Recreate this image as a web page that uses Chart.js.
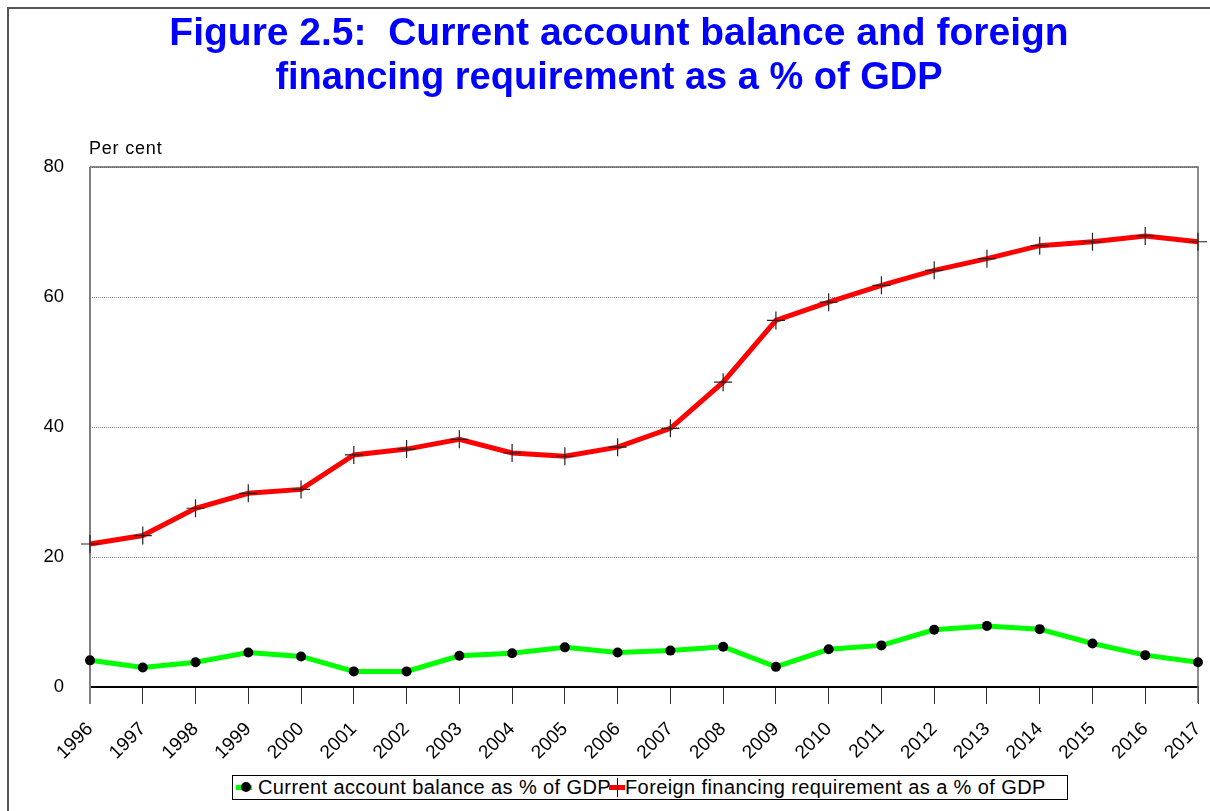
<!DOCTYPE html>
<html>
<head>
<meta charset="utf-8">
<script src="https://cdn.jsdelivr.net/npm/chart.js@4/dist/chart.umd.min.js"></script>
<style>
  html, body { margin:0; padding:0; background:#fff; overflow:hidden; }
  #wrap { position:relative; width:1210px; height:811px; overflow:hidden; font-family:"Liberation Sans", Arial, sans-serif; }
  #frame { position:absolute; left:7px; top:7px; width:1400px; height:1000px; border:2px solid #555; box-sizing:border-box; }
  #chart { position:absolute; left:0; top:0; }
  .title { position:absolute; left:0; width:1238px; text-align:center; color:#0000FF; font-weight:bold; font-size:38px; line-height:45px; white-space:pre; }
  #unit { position:absolute; left:89px; top:139px; font-size:18px; line-height:18px; letter-spacing:0.8px; color:#000; }
  #legend { position:absolute; left:232px; top:775px; width:836px; height:25px; border:1px solid #000; box-sizing:border-box; background:#fff; }
  .lt { position:absolute; top:0; font-size:20px; line-height:23px; letter-spacing:0.4px; color:#000; white-space:pre; }
  .bar { position:absolute; height:5px; }
  .dot { position:absolute; width:10px; height:10px; border-radius:50%; background:#000; }
  .vl { position:absolute; width:1px; background:#000; }
</style>
</head>
<body>
<div id="wrap">
  <div id="frame"></div>
  <canvas id="chart" width="1210" height="811"></canvas>
  <div class="title" style="top:9px;font-size:39px;">Figure 2.5:  Current account balance and foreign</div>
  <div class="title" style="top:54px;left:-10px;">financing requirement as a % of GDP</div>
  <div id="unit">Per cent</div>
  <div id="legend">
    <div class="bar" style="left:3px;top:9px;width:16px;background:#00FF00;"></div>
    <div class="dot" style="left:8px;top:6px;"></div>
    <div class="lt" id="lt1" style="left:25px;"></div>
    <div class="bar" style="left:376px;top:9px;width:16px;background:#FF0000;"></div>
    <div class="vl" style="left:384px;top:2px;height:19px;"></div>
    <div class="lt" id="lt2" style="left:392px;"></div>
  </div>
</div>
<script>
const years = ["1996","1997","1998","1999","2000","2001","2002","2003","2004","2005","2006","2007","2008","2009","2010","2011","2012","2013","2014","2015","2016","2017"];
const currentAccount = [4.1, 3.0, 3.8, 5.3, 4.7, 2.4, 2.4, 4.8, 5.2, 6.1, 5.3, 5.6, 6.2, 3.1, 5.8, 6.4, 8.8, 9.4, 8.9, 6.7, 4.9, 3.8];
const foreignFinancing = [22.0, 23.3, 27.5, 29.8, 30.4, 35.7, 36.6, 38.1, 36.0, 35.5, 36.9, 39.8, 46.9, 56.4, 59.2, 61.8, 64.1, 65.9, 67.9, 68.5, 69.4, 68.5];
const yTicks = [0, 20, 40, 60, 80];
const seriesNames = ["Current account balance as % of GDP", "Foreign financing requirement as a % of GDP"];

document.getElementById('lt1').textContent = seriesNames[0];
document.getElementById('lt2').textContent = seriesNames[1];

const framePlugin = {
  id: 'framePlugin',
  beforeDatasetsDraw(chart) {
    const {ctx, chartArea: a} = chart;
    ctx.save();
    ctx.strokeStyle = '#666';
    ctx.lineWidth = 1.5;
    ctx.beginPath();
    ctx.moveTo(a.left, a.top);
    ctx.lineTo(a.right, a.top);
    ctx.lineTo(a.right, a.bottom + 16);
    ctx.stroke();
    ctx.strokeStyle = '#808080';
    ctx.lineWidth = 2;
    ctx.beginPath();
    ctx.moveTo(a.left, a.top);
    ctx.lineTo(a.left, a.bottom + 17);
    ctx.stroke();
    ctx.restore();
  }
};

new Chart(document.getElementById('chart'), {
  type: 'line',
  data: {
    labels: years,
    datasets: [
      {
        label: seriesNames[0],
        data: currentAccount,
        borderColor: '#00FF00',
        backgroundColor: '#000',
        borderWidth: 5,
        pointStyle: 'circle',
        pointRadius: 5,
        pointBackgroundColor: '#000',
        pointBorderColor: '#000',
        pointBorderWidth: 0,
        tension: 0,
        clip: false
      },
      {
        label: seriesNames[1],
        data: foreignFinancing,
        borderColor: '#FF0000',
        backgroundColor: '#000',
        borderWidth: 5,
        pointStyle: 'cross',
        pointRadius: 9,
        pointBorderColor: '#222',
        pointBorderWidth: 1.2,
        tension: 0,
        clip: false
      }
    ]
  },
  options: {
    responsive: false,
    animation: false,
    events: [],
    layout: { padding: { top: 167, right: 12, left: 0, bottom: 0 } },
    plugins: { legend: { display: false }, title: { display: false }, tooltip: { enabled: false } },
    scales: {
      x: {
        offset: false,
        grid: { display: true, drawOnChartArea: false, drawTicks: true, tickLength: 17, color: '#333', lineWidth: 1 },
        border: { display: true, color: '#000', width: 2 },
        ticks: { color: '#000', font: { family: '"Liberation Sans", Arial, sans-serif', size: 19 }, maxRotation: 45, minRotation: 45, autoSkip: false, padding: 14 },
        afterFit(scale) { scale.height = 811 - 687; scale.paddingLeft = 0; scale.paddingRight = 0; }
      },
      y: {
        min: 0, max: 80,
        afterBuildTicks(scale) { scale.ticks = yTicks.map(v => ({ value: v })); },
        grid: { color: '#8a8a8a', lineWidth: 1, drawTicks: false },
        border: { display: false, dash: [1, 1] },
        ticks: { color: '#000', font: { family: '"Liberation Sans", Arial, sans-serif', size: 18.5 }, padding: 26 },
        afterFit(scale) { scale.width = 90; }
      }
    }
  },
  plugins: [framePlugin]
});
</script>
</body>
</html>
